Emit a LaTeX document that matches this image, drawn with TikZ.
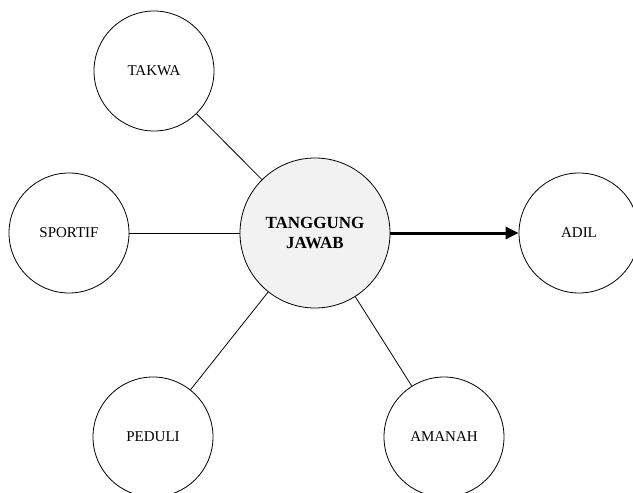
\documentclass[tikz,border=0pt]{standalone}
\usepackage{amsmath}
\usepackage{fontspec}
\setmainfont{Liberation Serif}
\usetikzlibrary{arrows.meta}

\begin{document}
\begin{tikzpicture}[x=1pt,y=-1pt,
  nilai/.style={circle,draw,line width=0.8pt,minimum size=120pt,inner sep=0pt,font=\fontsize{15}{18}\selectfont},
  pusat/.style={circle,draw,line width=0.8pt,fill=black!5,minimum size=150pt,inner sep=0pt,align=center,font=\fontsize{17}{20}\selectfont\bfseries}]
\useasboundingbox (0,0) rectangle (633,493);
\node [pusat] (tj) at (315,233) {TANGGUNG\\JAWAB};
\node [nilai] (tk) at (154,71) {TAKWA};
\node [nilai] (sp) at (69,233) {SPORTIF};
\node [nilai] (ad) at (579,233) {ADIL};
\node [nilai] (pd) at (153,437) {PEDULI};
\node [nilai] (am) at (444,437) {AMANAH};
\draw [line width=0.8pt] (tj) -- (tk);
\draw [line width=0.8pt] (tj) -- (sp);
\draw [line width=0.8pt] (tj) -- (pd);
\draw [line width=0.8pt] (tj) -- (am);
\draw [line width=3pt,-{Triangle[length=13pt,width=12pt]}] (tj) -- (ad);
\end{tikzpicture}
\end{document}
